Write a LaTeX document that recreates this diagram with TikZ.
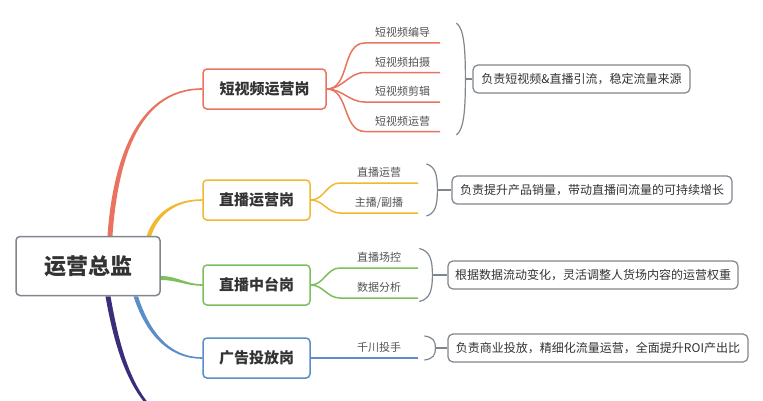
\documentclass[tikz,border=0pt]{standalone}
\usepackage{fontspec}
\setmainfont{Noto Sans CJK SC}
\definecolor{brred}{HTML}{E9735F}
\definecolor{bryel}{HTML}{F0B930}
\definecolor{brgrn}{HTML}{7CBF5C}
\definecolor{brblu}{HTML}{5B8DC8}
\definecolor{brpur}{HTML}{3A2D7C}
\definecolor{grayln}{HTML}{80868E}
\definecolor{txt}{HTML}{333333}
\tikzstyle{root} = [rectangle, rounded corners=4pt, draw=grayln, line width=1.5pt, fill=white, minimum width=144pt, minimum height=59pt, text=txt, font=\bfseries\fontsize{22}{26}\selectfont]
\tikzstyle{post} = [rectangle, rounded corners=4pt, line width=1.5pt, fill=white, minimum height=40pt, text=txt, font=\bfseries\fontsize{15}{18}\selectfont]
\tikzstyle{leaf} = [rectangle, minimum height=20pt, inner sep=0pt, anchor=south, text=txt!85, font=\fontsize{11}{13}\selectfont]
\tikzstyle{desc} = [rectangle, rounded corners=5pt, draw=grayln, line width=1.2pt, fill=white, minimum height=28pt, text=txt, font=\fontsize{12}{14}\selectfont]
\tikzstyle{brace} = [draw=grayln, line width=1.2pt]
\tikzstyle{sub} = [line width=1.5pt]
\pgfdeclarelayer{bg}
\pgfsetlayers{bg,main}

\begin{document}
\begin{tikzpicture}[x=1pt,y=1pt]
\useasboundingbox (0,0) rectangle (763,400);
\clip (0,0) rectangle (763,400);

\node[root] (root) at (88,134) {运营总监};
\node[post, draw=brred, minimum width=123pt] (video) at (264.5,311) {短视频运营岗};
\node[post, draw=bryel, minimum width=107pt] (live) at (256.5,200) {直播运营岗};
\node[post, draw=brgrn, minimum width=107pt] (mid) at (256.5,115) {直播中台岗};
\node[post, draw=brblu, minimum width=107pt] (ads) at (256.5,42) {广告投放岗};
\coordinate (next) at (203,-30);

\node[desc, minimum width=217pt] (vdesc) at (581.5,321) {负责短视频\&直播引流，稳定流量来源};
\node[desc, minimum width=280pt] (ldesc) at (592,210) {负责提升产品销量，带动直播间流量的可持续增长};
\node[desc, minimum width=290pt] (mdesc) at (593,125) {根据数据流动变化，灵活调整人货场内容的运营权重};
\node[desc, minimum width=300pt] (adesc) at (598,52) {负责商业投放，精细化流量运营，全面提升ROI产出比};

\begin{pgfonlayer}{bg}
\fill[brred] ([xshift=19.5pt]root.north) to[out=86,in=180] ([yshift=.8pt]video.west) -- ([yshift=-.8pt]video.west) to[out=180,in=86] ([xshift=24.5pt]root.north) -- cycle;
\fill[bryel] ([xshift=-14pt]root.north east) to[out=72,in=180] ([yshift=.8pt]live.west) -- ([yshift=-.8pt]live.west) to[out=180,in=72] ([xshift=-9.5pt]root.north east) -- cycle;
\fill[brgrn] ([yshift=-10pt]root.east) to[out=0,in=180] ([yshift=.8pt]mid.west) -- ([yshift=-.8pt]mid.west) to[out=180,in=0] ([yshift=-14pt]root.east) -- cycle;
\fill[brblu] ([xshift=50pt]root.south) to[out=-72,in=180] ([yshift=.8pt]ads.west) -- ([yshift=-.8pt]ads.west) to[out=180,in=-72] ([xshift=45.5pt]root.south) -- cycle;
\fill[brpur] ([xshift=17.5pt]root.south) to[out=-80,in=180] ([yshift=-.8pt]next) -- ([yshift=.8pt]next) to[out=180,in=-80] ([xshift=22.5pt]root.south) -- cycle;
\end{pgfonlayer}

% leaves
\foreach \t [count=\i] in {短视频编导,短视频拍摄,短视频剪辑,短视频运营}{
	\node[leaf, minimum width=75pt] (v\i) at (402.5,386.5-29.5*\i) {\t};
	\draw[sub, brred] (video.east) to[out=0,in=180] (v\i.south west) -- (v\i.south east);
}
\foreach \t [count=\i] in {直播运营,主播/副播}{
	\node[leaf, minimum width=78pt] (l\i) at (379,247-30*\i) {\t};
	\draw[sub, bryel] (live.east) to[out=0,in=180] (l\i.south west) -- (l\i.south east);
}
\foreach \t [count=\i] in {直播场控,数据分析}{
	\node[leaf, minimum width=78pt] (m\i) at (379,162-30*\i) {\t};
	\draw[sub, brgrn] (mid.east) to[out=0,in=180] (m\i.south west) -- (m\i.south east);
}
\node[leaf, minimum width=78pt] (a1) at (379,42) {千川投手};
\draw[sub, brblu] (ads.east) -- (a1.south west) -- (a1.south east);

% braces
\foreach \d/\s/\w/\h in {vdesc/7/9/56,ldesc/14/11/26,mdesc/15/13/26.5,adesc/12/11/12}{
	\coordinate (\d-tip) at ([xshift=-\s pt]\d.west);
	\coordinate (\d-top) at ([xshift=-\w pt,yshift=\h pt]\d-tip);
	\coordinate (\d-bot) at ([xshift=-\w pt,yshift=-\h pt]\d-tip);
	\draw[brace] (\d-top) .. controls +(0.8*\w,-0.1*\h) and +(0,0.6*\h) .. (\d-tip) .. controls +(0,-0.6*\h) and +(0.8*\w,0.1*\h) .. (\d-bot);
	\draw[brace] (\d-tip) -- (\d.west);
}
\end{tikzpicture}
\end{document}
